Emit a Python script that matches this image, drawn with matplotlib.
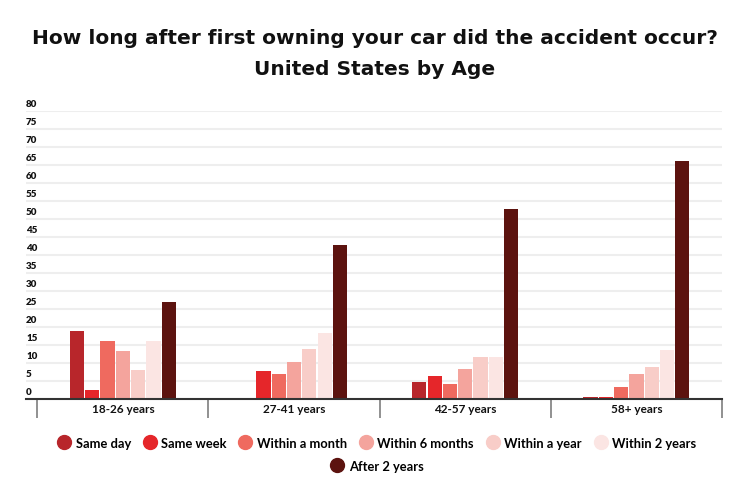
import numpy as np
import matplotlib.pyplot as plt
from matplotlib.lines import Line2D

ages = ['18-26 years', '27-41 years', '42-57 years', '58+ years']
periods = ['Same day', 'Same week', 'Within a month', 'Within 6 months',
           'Within a year', 'Within 2 years', 'After 2 years']
colors = ['#b8262b', '#e5262a', '#ef6a5f', '#f4a49d', '#f8cdc8', '#fbe5e3', '#5c130f']

same_day = [18.9, 0.0, 4.8, 0.5]
same_week = [2.6, 7.8, 6.3, 0.5]
within_month = [16.1, 6.9, 4.2, 3.2]
within_6_months = [13.4, 10.4, 8.2, 7.0]
within_year = [8.0, 13.9, 11.8, 8.9]
within_2_years = [16.1, 18.3, 11.8, 13.6]
after_2_years = [26.9, 42.7, 52.9, 66.0]
series = [same_day, same_week, within_month, within_6_months,
          within_year, within_2_years, after_2_years]

yticks = list(range(0, 85, 5))

narrow = ['Lato', 'DejaVu Sans']

fig = plt.figure(figsize=(7.5, 5.02), dpi=100)
ax = fig.add_axes([26/750, 1-400/502, 696/750, 288/502])

x = np.arange(len(ages))
step = 0.0894
width = 0.083
for i, vals in enumerate(series):
    ax.bar(x + (i - 3) * step, vals, width, color=colors[i], zorder=3)

ax.set_xlim(-0.566, 3.5)
ax.set_ylim(0, 80)

# horizontal grid
for yv in yticks[1:]:
    ax.axhline(yv, color='#eeeeee', lw=1.5, zorder=1)

# y labels sit above the grid lines
ax.set_yticks([])
for yv in yticks:
    ax.annotate(str(yv), (0, yv), xycoords=ax.get_yaxis_transform(),
                xytext=(0, 2), textcoords='offset points',
                ha='left', va='bottom', fontsize=7, fontweight='heavy',
                family=narrow, color='#111111')

# category separators and labels
ax.set_xticks(np.arange(-0.5, 4.0, 1.0))
ax.set_xticklabels([])
ax.tick_params(axis='x', which='major', length=13.5, width=1.3,
               color='#888888', direction='out')
ax.set_xticks(x, minor=True)
ax.set_xticklabels(ages, minor=True, fontsize=8.5, fontweight='bold',
                   family=narrow, color='#111111')
ax.tick_params(axis='x', which='minor', length=0, pad=3)

for s in ['top', 'right', 'left']:
    ax.spines[s].set_visible(False)
ax.spines['bottom'].set_color('#333333')
ax.spines['bottom'].set_linewidth(1.5)
ax.spines['bottom'].set_zorder(4)

fig.text(0.5, 1-44/502, 'How long after first owning your car did the accident occur?',
         ha='center', va='baseline', fontsize=14.5, fontweight='bold', color='#111111')
fig.text(0.5, 1-75/502, 'United States by Age',
         ha='center', va='baseline', fontsize=14.5, fontweight='bold', color='#111111')

handles = [Line2D([], [], marker='o', ls='none', markersize=10,
                  markerfacecolor=c, markeredgecolor=c) for c in colors]
leg_font = {'family': narrow, 'weight': 'bold', 'size': 9.3}
leg1 = fig.legend(handles[:6], periods[:6], ncol=6, loc='center',
                  bbox_to_anchor=(0.5, 1-444/502), frameon=False,
                  prop=leg_font, handletextpad=0.1, columnspacing=0.65,
                  handlelength=1.6)
fig.legend(handles[6:], periods[6:], ncol=1, loc='center',
           bbox_to_anchor=(0.5, 1-467/502), frameon=False,
           prop=leg_font, handletextpad=0.1, handlelength=1.6)

fig.savefig('out.png', dpi=100)
